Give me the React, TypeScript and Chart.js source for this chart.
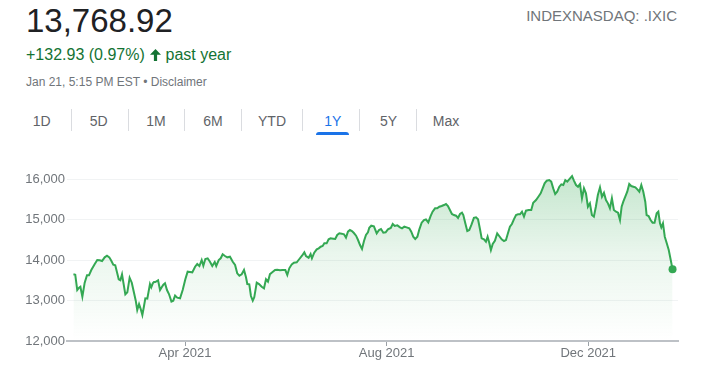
import React, { useEffect, useRef } from "react";
import { Chart, registerables } from "chart.js";

Chart.register(...registerables);

// Day-of-year (2021 = day 0 at Jan 1) for each sampled close
const tradeDays: number[] = [
  22.5, 23.6, 24.8, 25.9, 26.7, 27.9, 29.3, 30.7, 31.9, 33.3,
  35.4, 36.9, 38.4, 39.8, 41.4, 42.8, 44.2, 45.4, 46.6, 47.8,
  49.0, 49.9, 50.9, 51.9, 52.9, 53.9, 55.1, 56.5, 57.8, 59.0,
  60.2, 61.1, 62.2, 63.2, 64.2, 65.2, 66.0, 67.2, 68.8, 69.6,
  70.5, 71.2, 72.0, 73.7, 74.9, 75.9, 76.9, 77.9, 79.1, 80.3,
  81.8, 82.9, 84.0,
  85.3, 87.0, 88.6, 90.2, 91.6, 93.0, 94.4, 96.1, 97.4, 98.7,
  100.1, 101.1, 102.3, 103.7, 105.1, 106.5, 108.0, 108.9, 110.4, 111.6,
  112.8, 114.2, 115.6, 117.2, 118.9, 120.3, 121.6, 122.9, 124.3, 125.7,
  126.9, 127.7, 128.9, 129.9, 131.0, 131.9, 133.4, 134.8, 136.4, 137.8,
  139.0, 140.2, 141.4, 142.8,
  144.5, 145.8, 147.5, 148.9, 150.7, 151.9, 153.1, 154.6, 155.9, 157.6,
  159.2, 160.8, 162.2, 163.2, 164.8, 166.0, 166.8, 168.2, 169.7, 170.9,
  172.1, 173.3, 174.3, 175.7, 176.9, 178.1, 179.7, 180.9, 182.1, 183.4,
  184.8, 186.2, 187.4, 188.6, 189.8, 191.0, 192.2, 193.5, 194.7, 195.9,
  197.1, 198.3, 199.5, 200.7, 201.5, 202.7, 204.3,
  206.0, 207.4, 208.6, 210.0, 211.4, 212.8, 214.5, 215.7, 216.9, 218.5,
  220.1, 221.3, 222.7, 224.1, 225.7, 226.9, 228.1, 229.3, 230.6, 231.8,
  233.2, 234.6, 235.8, 237.2, 238.6, 239.8, 241.3, 242.6, 243.9, 245.3,
  246.7, 247.9, 249.1, 250.3, 251.5, 252.7, 254.0, 255.2, 256.4, 257.6,
  258.4, 259.6, 260.8, 262.0, 263.4, 264.8,
  266.1, 267.3, 268.5, 269.5, 270.9, 272.1, 273.1, 274.1, 275.1, 276.2,
  277.5, 278.9, 280.1, 281.6, 283.0, 284.2, 285.4, 286.6, 287.8, 289.0,
  290.3, 291.5, 292.7, 293.9, 295.1, 296.3, 297.9, 299.5, 300.7, 302.4,
  303.8, 305.2, 306.4, 307.6, 308.9, 310.4, 311.6, 312.8, 314.0, 315.2,
  316.5, 317.7, 318.9, 320.1, 321.3, 323.0, 324.2, 325.4,
  326.6, 327.8, 329.0, 330.2, 331.4, 332.6, 333.8, 335.0, 336.2, 337.4,
  338.6, 339.8, 341.1, 342.3, 343.5, 344.7, 345.9, 347.1, 348.3, 349.5,
  350.8, 352.0, 353.2, 354.2, 355.2, 356.4, 357.6, 358.8, 360.0, 361.3,
  362.5, 363.7, 364.9, 366.1, 367.3, 368.5, 369.3, 370.5, 371.7, 372.9,
  374.1, 375.4, 376.4, 377.4, 378.2, 379.2, 380.3, 381.5, 382.7, 383.9,
  385.0,
];

const closes: number[] = [
  13647, 13637, 13259, 13316, 13340, 13094, 13440, 13622, 13622, 13753,
  13901, 14000, 13992, 13975, 14066, 14106, 14066, 13983, 13884, 13869,
  13671, 13523, 13499, 13647, 13400, 13153, 13202, 13563, 13440, 13217,
  12995, 12765, 12914, 12790, 12642, 12864, 13054, 13045, 13407, 13326,
  13424, 13457, 13457, 13499, 13259, 13326, 13390, 13424, 13259, 13160,
  12975, 12995, 13120,
  13070, 13054, 13259, 13523, 13711, 13704, 13696, 13835, 13901, 13852,
  14000, 13860, 14025, 14042, 13958, 13852, 13951, 13852, 14000, 14042,
  14141, 14099, 14066, 14082, 13958, 13876, 13671, 13612, 13647, 13753,
  13572, 13407, 13400, 13111, 12995, 13079, 13440, 13407, 13340, 13301,
  13523, 13464, 13650, 13696,
  13753, 13761, 13745, 13753, 13753, 13630, 13795, 13893, 13934, 13943,
  14025, 14106, 14190, 14099, 14057, 14148, 14042, 14181, 14264, 14289,
  14329, 14346, 14412, 14412, 14511, 14536, 14527, 14519, 14618, 14659,
  14651, 14634, 14552, 14700, 14741, 14716, 14667, 14601, 14494, 14370,
  14272, 14469, 14618, 14684, 14798, 14847, 14832,
  14659, 14741, 14765, 14675, 14684, 14758, 14790, 14889, 14840, 14856,
  14807, 14782, 14823, 14807, 14782, 14700, 14575, 14519, 14575, 14758,
  14922, 14988, 15005, 14930, 15086, 15193, 15276, 15276, 15316, 15333,
  15358, 15383, 15333, 15234, 15136, 15111, 15094, 15037, 15136, 15168,
  15111, 14906, 14716, 14741, 14880, 15040,
  15054, 15004, 14758, 14536, 14511, 14452, 14575, 14428, 14247, 14395,
  14477, 14659, 14593, 14511, 14469, 14494, 14659, 14823, 14889, 15004,
  15111, 15127, 15127, 15193, 15070, 15218, 15234, 15234, 15415, 15481,
  15563, 15646, 15769, 15893, 15958, 15975, 15934, 15769, 15630, 15687,
  15810, 15869, 15852, 15975, 15934, 16017, 16074, 15955,
  15852, 15810, 15876, 15523, 15769, 15646, 15316, 15399, 15111, 15070,
  15316, 15605, 15794, 15563, 15662, 15481, 15399, 15276, 15523, 15234,
  15193, 15168, 14988, 15316, 15440, 15563, 15687, 15876, 15827, 15810,
  15794, 15745, 15687, 15852, 15687, 15440, 15111, 15086, 14988, 14922,
  14922, 15152, 15193, 14906, 14807, 14906, 14575, 14412, 14247, 14000,
  13768.92,
];

const xTickDays: number[] = [90, 212, 334];
const xTickLabels: string[] = ["Apr 2021", "Aug 2021", "Dec 2021"];
const yTicks: number[] = [12000, 13000, 14000, 15000, 16000];

const tabs: string[] = ["1D", "5D", "1M", "6M", "YTD", "1Y", "5Y", "Max"];
const tabCenters: number[] = [41.7, 98.7, 156, 213, 272, 332.7, 388.5, 446];
const tabSeparators: number[] = [70.7, 127.7, 184.3, 241.3, 302.3, 359.3, 416.3];
const activeTab = "1Y";

const FONT = "Arial, 'Liberation Sans', sans-serif";
const GREEN = "#34a853";

export default function App() {
  const canvasRef = useRef<HTMLCanvasElement | null>(null);

  useEffect(() => {
    const canvas = canvasRef.current;
    if (!canvas) return;
    const points = tradeDays.map((d, i) => ({ x: d, y: closes[i] }));
    const last = points.length - 1;
    const chart = new Chart(canvas, {
      type: "line",
      data: {
        datasets: [
          {
            data: points,
            borderColor: GREEN,
            borderWidth: 2,
            tension: 0,
            fill: "start",
            backgroundColor: (ctx: any) => {
              const { chart: ch } = ctx;
              const area = ch.chartArea;
              if (!area) return "rgba(52,168,83,0.15)";
              const g = ch.ctx.createLinearGradient(0, area.top, 0, area.bottom);
              g.addColorStop(0, "rgba(52,168,83,0.30)");
              g.addColorStop(0.5, "rgba(52,168,83,0.10)");
              g.addColorStop(1, "rgba(52,168,83,0.0)");
              return g;
            },
            pointRadius: (ctx: any) => (ctx.dataIndex === last ? 4 : 0),
            pointBackgroundColor: GREEN,
            pointBorderWidth: 0,
            pointHoverRadius: 0,
          },
        ],
      },
      options: {
        animation: false,
        responsive: false,
        devicePixelRatio: 1,
        layout: { padding: { left: 0, right: 33, top: 18.9, bottom: 0 } },
        plugins: { legend: { display: false }, tooltip: { enabled: false } },
        scales: {
          x: {
            type: "linear",
            min: 18.6,
            max: 388.3,
            afterFit: (s: any) => {
              s.height = 37;
            },
            afterBuildTicks: (axis: any) => {
              axis.ticks = xTickDays.map((v) => ({ value: v }));
            },
            grid: {
              display: true,
              drawOnChartArea: false,
              drawTicks: true,
              tickLength: 5,
              color: "#9aa0a6",
              lineWidth: 1,
            },
            border: { display: true, color: "#bdc1c6", width: 2 },
            ticks: {
              autoSkip: false,
              maxRotation: 0,
              padding: 0,
              color: "#70757a",
              font: { family: FONT, size: 13 },
              callback: (v: any) => {
                const i = xTickDays.indexOf(Number(v));
                return i >= 0 ? xTickLabels[i] : "";
              },
            },
          },
          y: {
            type: "linear",
            min: 12000,
            max: 16250,
            afterFit: (s: any) => {
              s.width = 67;
            },
            afterBuildTicks: (axis: any) => {
              axis.ticks = yTicks.map((v) => ({ value: v }));
            },
            grid: {
              drawTicks: false,
              color: (c: any) => (c.tick && c.tick.value === 12000 ? "rgba(0,0,0,0)" : "#f1f3f4"),
              lineWidth: 1,
            },
            border: { display: false },
            ticks: {
              padding: 2,
              color: "#70757a",
              font: { family: FONT, size: 13 },
              callback: (v: any) => Number(v).toLocaleString("en-US"),
            },
          },
        },
      },
    });
    return () => chart.destroy();
  }, []);

  const abs = (o: React.CSSProperties): React.CSSProperties => ({ position: "absolute", whiteSpace: "nowrap", ...o });

  return (
    <div style={{ position: "absolute", left: 0, top: 0, width: 711, height: 378, background: "#fff", fontFamily: FONT, overflow: "hidden" }}>
      <div style={abs({ left: 26, top: 4.4, fontSize: 33, lineHeight: "33px", color: "#202124" })}>13,768.92</div>
      <div style={abs({ right: 34, top: 8, fontSize: 15, lineHeight: "15px", color: "#70757a" })}>INDEXNASDAQ: .IXIC</div>
      <div style={abs({ left: 26, top: 47.2, fontSize: 16, lineHeight: "16px", color: "#137333" })}>+132.93 (0.97%)</div>
      <svg style={{ position: "absolute", left: 149.5, top: 48.5 }} width={11} height={12} viewBox="0 0 11 12">
        <path d="M5.5 0 L11 5.8 L7.1 5.8 L7.1 12 L3.9 12 L3.9 5.8 L0 5.8 Z" fill="#137333" />
      </svg>
      <div style={abs({ left: 165.5, top: 47.2, fontSize: 16, lineHeight: "16px", color: "#137333" })}>past year</div>
      <div style={abs({ left: 26, top: 75.5, fontSize: 12, lineHeight: "12px", color: "#70757a" })}>
        Jan 21, 5:15 PM EST • Disclaimer
      </div>
      {tabs.map((t, i) => (
        <div
          key={t}
          style={abs({
            left: tabCenters[i] - 30,
            width: 60,
            textAlign: "center",
            top: 114.2,
            fontSize: 14,
            lineHeight: "14px",
            color: t === activeTab ? "#1a73e8" : "#5f6368",
          })}
        >
          {t}
        </div>
      ))}
      {tabSeparators.map((x, i) => (
        <div key={i} style={abs({ left: x, top: 109, width: 1, height: 22, background: "#dadce0" })} />
      ))}
      <div
        style={abs({
          left: tabCenters[tabs.indexOf(activeTab)] - 16.5,
          top: 132,
          width: 33,
          height: 3,
          background: "#1a73e8",
          borderRadius: "3px 3px 0 0",
        })}
      />
      <canvas
        ref={canvasRef}
        width={711}
        height={228}
        style={{ position: "absolute", left: 0, top: 150, width: 711, height: 228 }}
      />
    </div>
  );
}
